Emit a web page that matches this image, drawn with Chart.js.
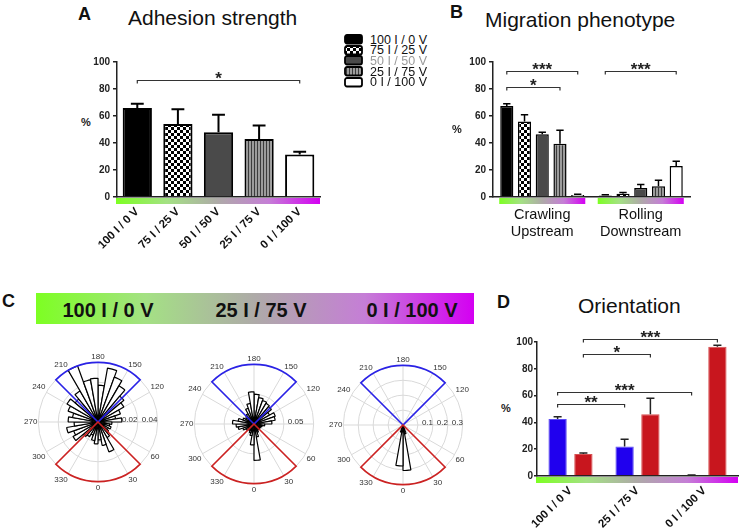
<!DOCTYPE html>
<html>
<head>
<meta charset="utf-8">
<title>Adhesion, migration and orientation</title>
<script src="https://cdn.jsdelivr.net/npm/chart.js@4.4.1/dist/chart.umd.min.js"></script>
<style>
  html, body { margin: 0; padding: 0; background: #fff; }
  body { position: relative; width: 744px; height: 529px; overflow: hidden;
         font-family: 'Liberation Sans', Arial, sans-serif; color: #111; }
  .txt { position: absolute; line-height: 1; white-space: nowrap; }
  .letter { font-size: 18px; font-weight: bold; }
  .title { font-size: 21px; }
  .pct { font-size: 11px; font-weight: bold; color: #222; }
  canvas { position: absolute; }
  #banner { position: absolute; left: 36px; top: 293px; width: 438px; height: 31px;
            background: linear-gradient(to right, #7dff22 0%, #a4e184 25%, #aeaaa8 50%, #c57ed6 75%, #d400f2 100%); }
  #banner span { position: absolute; top: 7px; font-size: 20px; font-weight: bold; color: #111;
                 transform: translateX(-50%); line-height: 1; white-space: nowrap; }
  .leg { position: absolute; left: 344px; height: 11px; font-size: 12.5px; line-height: 1; white-space: nowrap; }
  .leg canvas { left: 0; top: 0; }
  .leg span { position: absolute; left: 26px; top: -0.5px; }
</style>
</head>
<body>
<div class="txt letter" style="left:78px;top:5px">A</div>
<div class="txt title" style="left:128px;top:7px">Adhesion strength</div>
<div class="txt pct" style="left:81px;top:117px">%</div>
<canvas id="chartA" width="270" height="225" style="left:60px;top:40px"></canvas>

<div id="legend"></div>

<div class="txt letter" style="left:450px;top:3px">B</div>
<div class="txt title" style="left:485px;top:9px">Migration phenotype</div>
<div class="txt pct" style="left:452px;top:124px">%</div>
<canvas id="chartB" width="300" height="225" style="left:440px;top:40px"></canvas>

<div class="txt letter" style="left:2px;top:292px">C</div>
<div id="banner">
  <span style="left:72px">100 I / 0 V</span>
  <span style="left:225px">25 I / 75 V</span>
  <span style="left:376px">0 I / 100 V</span>
</div>
<canvas id="rose1" width="148" height="148" style="left:22px;top:348px"></canvas>
<canvas id="rose2" width="148" height="148" style="left:178px;top:350px"></canvas>
<canvas id="rose3" width="148" height="148" style="left:327px;top:351px"></canvas>

<div class="txt letter" style="left:497px;top:293px">D</div>
<div class="txt title" style="left:578px;top:295px">Orientation</div>
<div class="txt pct" style="left:501px;top:403px">%</div>
<canvas id="chartD" width="254" height="229" style="left:490px;top:300px"></canvas>

<script>
// --- data ---
var conditions = ['100 I / 0 V', '75 I / 25 V', '50 I / 50 V', '25 I / 75 V', '0 I / 100 V'];

var adhesion = [66, 54, 48, 43, 31.5];
var adhesionErr = [3, 11, 13, 10, 2];
// [dataset, bar, dataset, bar, y value, stars]
var adhesionSig = [[0, 0, 0, 4, 87, '*']];

var phenotypes = [['Crawling', 'Upstream'], ['Rolling', 'Downstream']];
var crawlingUpstream = [67.5, 56, 46.5, 39.5, 1.5];
var crawlingErr = [1.5, 5, 1.5, 10, 0.5];
var rollingDownstream = [1.2, 2.5, 6.7, 8, 23];
var rollingErr = [0.5, 0.8, 2.5, 4.4, 3.5];
var migrationSig = [[0, 0, 4, 0, 93, '***'], [0, 0, 3, 0, 81.4, '*'], [0, 1, 4, 1, 93, '***']];

var orientGroups = ['100 I / 0 V', '25 I / 75 V', '0 I / 100 V'];
var sector180 = [42.5, 22, 0.5];
var sector180Err = [1.8, 5.5, 0.3];
var sector0 = [16.5, 46, 96.5];
var sector0Err = [0.6, 12, 1];
var orientSig = [[1, 0, 1, 2, 102, '***'], [1, 0, 1, 1, 91.3, '*'], [0, 0, 0, 2, 63, '***'], [0, 0, 0, 1, 54, '**']];

// rose histograms, bins start at these angles (0 = down, counter-clockwise)
var roseBins = [0, 10, 20, 30, 40, 50, 60, 70, 80, 90, 100, 110, 120, 130, 140, 150, 160, 170,
                180, 190, 200, 210, 220, 230, 240, 250, 260, 270, 280, 290, 300, 310, 320, 330, 340, 350];
var rose100I = [0.018, 0.024, 0.032, 0.018, 0.014, 0.012, 0.014, 0.012, 0.014, 0.024, 0.018, 0.024,
                0.030, 0.034, 0.042, 0.048, 0.055, 0.037, 0.044, 0.043, 0.060, 0.036, 0.030, 0.036,
                0.032, 0.026, 0.030, 0.024, 0.032, 0.026, 0.029, 0.019, 0.017, 0.014, 0.019, 0.022];
var rose25I = [0.061, 0.022, 0.015, 0.012, 0.010, 0.012, 0.012, 0.014, 0.018, 0.030, 0.036, 0.038,
               0.030, 0.038, 0.040, 0.042, 0.045, 0.050, 0.054, 0.035, 0.028, 0.020, 0.018, 0.016,
               0.020, 0.027, 0.036, 0.030, 0.027, 0.020, 0.016, 0.013, 0.013, 0.016, 0.020, 0.035];
var rose0I = [0.305, 0.060, 0.015, 0.005, 0.004, 0.003, 0.003, 0.002, 0.002, 0.003, 0.002, 0.002,
              0.003, 0.002, 0.002, 0.003, 0.002, 0.003, 0.004, 0.003, 0.002, 0.002, 0.003, 0.002,
              0.002, 0.003, 0.002, 0.002, 0.003, 0.002, 0.003, 0.003, 0.004, 0.012, 0.050, 0.275];
var roseTicks100I = [0.02, 0.04];
var roseTicks25I = [0.05];
var roseTicks0I = [0.1, 0.2, 0.3];

// --- styles ---
var FONT = "'Liberation Sans', Arial, sans-serif";
var STRIP = [[0, '#7dff22'], [0.25, '#a4e184'], [0.5, '#aeaaa8'], [0.75, '#c57ed6'], [1, '#d400f2']];
Chart.defaults.font.family = FONT;
Chart.defaults.animation = false;

function makePattern(kind) {
    var c = document.createElement('canvas');
    var g;
    if (kind === 'checker') {
        c.width = 6; c.height = 6; g = c.getContext('2d');
        g.fillStyle = '#fff'; g.fillRect(0, 0, 6, 6);
        g.fillStyle = '#000'; g.fillRect(0, 0, 3, 3); g.fillRect(3, 3, 3, 3);
    } else {
        c.width = 3; c.height = 3; g = c.getContext('2d');
        g.fillStyle = '#9c9c9c'; g.fillRect(0, 0, 3, 3);
        g.fillStyle = '#3c3c3c'; g.fillRect(2, 0, 1, 3);
    }
    return g.createPattern(c, 'repeat');
}
var fills = ['#000', makePattern('checker'), '#4a4a4a', makePattern('stripes'), '#fff'];

// legend
var legendEl = document.getElementById('legend');
conditions.forEach(function (c, i) {
    var row = document.createElement('div');
    row.className = 'leg';
    row.style.top = (34 + i * 10.7) + 'px';
    var sw = document.createElement('canvas');
    sw.width = 20; sw.height = 11;
    var g = sw.getContext('2d');
    g.fillStyle = fills[i];
    g.strokeStyle = '#000';
    g.lineWidth = 1.8;
    g.beginPath();
    if (g.roundRect) g.roundRect(1, 1, 17, 8.5, 2); else g.rect(1, 1, 17, 8.5);
    g.fill(); g.stroke();
    var tx = document.createElement('span');
    tx.textContent = c;
    tx.style.color = i === 2 ? '#9a9a9a' : '#111';
    row.appendChild(sw);
    row.appendChild(tx);
    legendEl.appendChild(row);
});

function drawStrip(ctx, x0, x1, y) {
    var g = ctx.createLinearGradient(x0, 0, x1, 0);
    STRIP.forEach(function (s) { g.addColorStop(s[0], s[1]); });
    ctx.fillStyle = g;
    ctx.fillRect(x0, y, x1 - x0, 6);
}

// error bars, colour strip under the axis, significance brackets
function barExtras(o) {
    return {
        id: 'barExtras',
        afterDatasetsDraw: function (chart) {
            var ctx = chart.ctx, ys = chart.scales.y, area = chart.chartArea;
            ctx.save();
            chart.data.datasets.forEach(function (ds, di) {
                chart.getDatasetMeta(di).data.forEach(function (bar, i) {
                    var top = ys.getPixelForValue(ds.data[i] + ds.errors[i]);
                    var half = bar.width * o.cap;
                    ctx.strokeStyle = o.errColor;
                    ctx.lineWidth = o.errWidth;
                    ctx.beginPath();
                    ctx.moveTo(bar.x, bar.y);
                    ctx.lineTo(bar.x, top);
                    ctx.moveTo(bar.x - half, top);
                    ctx.lineTo(bar.x + half, top);
                    ctx.stroke();
                });
            });
            if (o.groupStrips) {
                var first = chart.getDatasetMeta(0).data;
                var last = chart.getDatasetMeta(chart.data.datasets.length - 1).data;
                first.forEach(function (bar, k) {
                    drawStrip(ctx, bar.x - bar.width / 2 - 1, last[k].x + last[k].width / 2 + 1, area.bottom + 1);
                });
            } else {
                drawStrip(ctx, area.left - 1, area.right, area.bottom + 1);
            }
            ctx.font = 'bold 17px ' + FONT;
            ctx.textAlign = 'center';
            ctx.textBaseline = 'alphabetic';
            ctx.strokeStyle = '#333';
            ctx.fillStyle = '#222';
            ctx.lineWidth = 1.2;
            o.brackets.forEach(function (b) {
                var xa = chart.getDatasetMeta(b[0]).data[b[1]].x;
                var xb = chart.getDatasetMeta(b[2]).data[b[3]].x;
                var yy = Math.round(ys.getPixelForValue(b[4])) + 0.5;
                ctx.beginPath();
                ctx.moveTo(xa, yy + 3);
                ctx.lineTo(xa, yy);
                ctx.lineTo(xb, yy);
                ctx.lineTo(xb, yy + 3);
                ctx.stroke();
                ctx.fillText(b[5], (xa + xb) / 2, yy + 3);
            });
            ctx.restore();
        }
    };
}

function yAxis(width, tickLen, pad) {
    return {
        min: 0, max: 100,
        ticks: { stepSize: 20, color: '#222', padding: pad, font: { size: 10, weight: 'bold' } },
        grid: { drawOnChartArea: false, drawTicks: true, tickLength: tickLen, color: '#222', lineWidth: 1.5 },
        border: { display: true, color: '#222', width: 1.5 },
        afterFit: function (s) { s.width = width; }
    };
}

function xAxis(height, rotated) {
    return {
        grid: { display: false, drawTicks: false },
        border: { display: true, color: '#222', width: 1.5 },
        ticks: rotated
            ? { color: '#111', font: { size: 11.5, weight: 'bold' }, minRotation: 45, maxRotation: 45, padding: 8, autoSkip: false }
            : { color: '#111', font: { size: 14.5, lineHeight: 1.2 }, maxRotation: 0, padding: 9, autoSkip: false },
        afterFit: function (s) { s.height = height; }
    };
}

// A: adhesion strength
new Chart(document.getElementById('chartA'), {
    type: 'bar',
    data: {
        labels: conditions,
        datasets: [{
            data: adhesion, errors: adhesionErr,
            backgroundColor: fills, borderColor: '#000', borderWidth: 2,
            barPercentage: 0.8, categoryPercentage: 0.9
        }]
    },
    options: {
        responsive: false,
        layout: { padding: { left: 0, right: 10, top: 22, bottom: 0 } },
        plugins: { legend: { display: false }, tooltip: { enabled: false } },
        scales: { x: xAxis(68, true), y: yAxis(57, 4, 3) }
    },
    plugins: [barExtras({ cap: 0.22, errColor: '#000', errWidth: 2, brackets: adhesionSig })]
});

// B: migration phenotype
new Chart(document.getElementById('chartB'), {
    type: 'bar',
    data: {
        labels: phenotypes,
        datasets: conditions.map(function (c, i) {
            return {
                label: c,
                data: [crawlingUpstream[i], rollingDownstream[i]],
                errors: [crawlingErr[i], rollingErr[i]],
                backgroundColor: fills[i], borderColor: '#000', borderWidth: 1.5,
                barPercentage: 0.74, categoryPercentage: 0.9
            };
        })
    },
    options: {
        responsive: false,
        layout: { padding: { left: 0, right: 50, top: 22, bottom: 0 } },
        plugins: { legend: { display: false }, tooltip: { enabled: false } },
        scales: { x: xAxis(68, false), y: yAxis(53, 4, 3) }
    },
    plugins: [barExtras({ cap: 0.28, errColor: '#000', errWidth: 1.5, brackets: migrationSig, groupStrips: true })]
});

// D: orientation
new Chart(document.getElementById('chartD'), {
    type: 'bar',
    data: {
        labels: orientGroups,
        datasets: [
            { label: '180', data: sector180, errors: sector180Err, backgroundColor: '#2000ee', borderColor: '#5a4cf2',
              borderWidth: 1, barPercentage: 0.71, categoryPercentage: 0.77 },
            { label: '0', data: sector0, errors: sector0Err, backgroundColor: '#c8161e', borderColor: '#d65050',
              borderWidth: 1, barPercentage: 0.71, categoryPercentage: 0.77 }
        ]
    },
    options: {
        responsive: false,
        layout: { padding: { left: 0, right: 6, top: 42, bottom: 0 } },
        plugins: { legend: { display: false }, tooltip: { enabled: false } },
        scales: { x: xAxis(53, true), y: yAxis(47, 3, 1) }
    },
    plugins: [barExtras({ cap: 0.22, errColor: '#222', errWidth: 1.5, brackets: orientSig })]
});

// C: rose plots
function roseExtras(tickVals) {
    return {
        id: 'roseExtras',
        afterDatasetsDraw: function (chart) {
            var r = chart.scales.r, ctx = chart.ctx;
            var cx = r.xCenter, cy = r.yCenter, R = r.drawingArea;
            ctx.save();
            ctx.lineWidth = 1.6;
            [[135, 225, '#2a22e6'], [-45, 45, '#cc2222']].forEach(function (w) {
                var a0 = (90 - w[1]) * Math.PI / 180, a1 = (90 - w[0]) * Math.PI / 180;
                ctx.strokeStyle = w[2];
                ctx.beginPath();
                ctx.moveTo(cx, cy);
                ctx.arc(cx, cy, R, a0, a1);
                ctx.closePath();
                ctx.stroke();
            });
            ctx.font = '8px ' + FONT;
            ctx.fillStyle = '#333';
            ctx.textAlign = 'left';
            ctx.textBaseline = 'middle';
            tickVals.forEach(function (v) {
                ctx.fillText(String(v), cx + r.getDistanceFromCenterForValue(v) + 4, cy - 2);
            });
            ctx.restore();
        }
    };
}

function roseChart(id, values, max, step, tickVals) {
    var n = roseBins.length, labels = [], data = [];
    for (var i = 0; i < n; i++) {
        labels.push(roseBins[(n / 2 - i + n) % n]);
        data.push(values[(n / 2 - 1 - i + n) % n]);
    }
    return new Chart(document.getElementById(id), {
        type: 'polarArea',
        data: { labels: labels, datasets: [{ data: data, backgroundColor: '#fff', borderColor: '#000', borderWidth: 1.2 }] },
        options: {
            responsive: false,
            layout: { padding: 0 },
            plugins: { legend: { display: false }, tooltip: { enabled: false } },
            scales: {
                r: {
                    min: 0, max: max, startAngle: 0,
                    ticks: { display: false, stepSize: step },
                    grid: { circular: true, color: '#d9d9d9', lineWidth: 1 },
                    angleLines: {
                        display: true, lineWidth: 1,
                        color: function (c) { return c.index % 3 === 0 ? '#d9d9d9' : 'rgba(0,0,0,0)'; }
                    },
                    pointLabels: {
                        display: true, centerPointLabels: false, padding: 1,
                        font: { size: 8 },
                        callback: function (v) { return v % 30 === 0 ? String(v) : ''; },
                        color: function (c) { return String(c.label) === '90' ? 'rgba(0,0,0,0)' : '#333'; }
                    }
                }
            }
        },
        plugins: [roseExtras(tickVals)]
    });
}

roseChart('rose1', rose100I, 0.06, 0.02, roseTicks100I);
roseChart('rose2', rose25I, 0.1, 0.05, roseTicks25I);
roseChart('rose3', rose0I, 0.4, 0.1, roseTicks0I);
</script>
</body>
</html>
